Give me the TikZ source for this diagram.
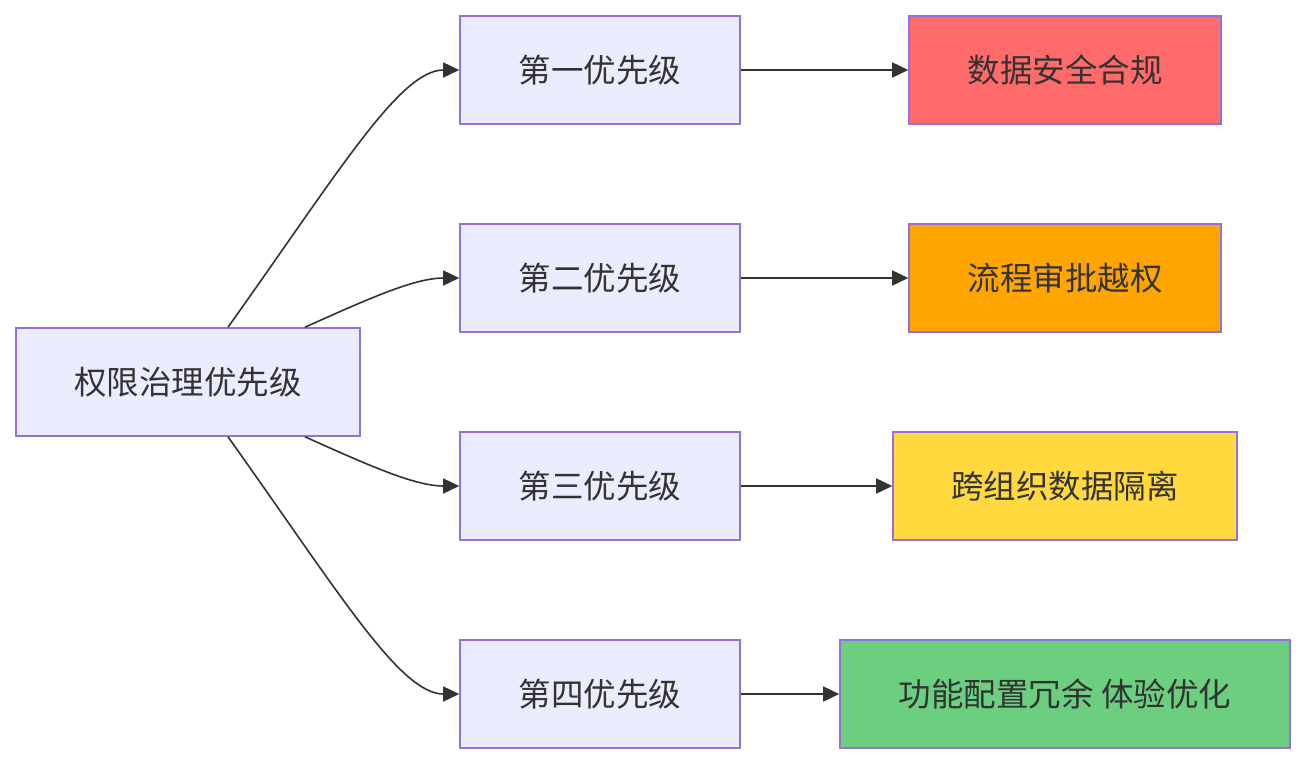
\documentclass[tikz,border=0pt]{standalone}
\usepackage{fontspec}
\setmainfont{Noto Sans CJK SC}
\usetikzlibrary{arrows.meta}
\definecolor{txt}{HTML}{333333}
\definecolor{bord}{HTML}{9370DB}
\definecolor{lav}{HTML}{ECECFF}
\definecolor{cred}{HTML}{FF6B6B}
\definecolor{corange}{HTML}{FFA500}
\definecolor{cyellow}{HTML}{FFD93D}
\definecolor{cgreen}{HTML}{6BCF7F}
\tikzset{
  box/.style={draw=bord, line width=1.6pt, fill=lav, text=txt, inner sep=0pt,
    font=\fontsize{32.5}{38}\selectfont, minimum height=108pt},
  conn/.style={draw=txt, line width=1.6pt, -{Triangle[length=16pt,width=15pt]}}
}
\begin{document}
\begin{tikzpicture}[x=1pt,y=-1pt]
\useasboundingbox (0,0) rectangle (1305,764);
\node[box, minimum width=344pt] (root) at (188,382) {权限治理优先级};
\node[box, minimum width=280pt] (p1) at (600,70) {第一优先级};
\node[box, minimum width=280pt] (p2) at (600,278) {第二优先级};
\node[box, minimum width=280pt] (p3) at (600,486) {第三优先级};
\node[box, minimum width=280pt] (p4) at (600,694) {第四优先级};
\node[box, minimum width=312pt, fill=cred] (r1) at (1065,70) {数据安全合规};
\node[box, minimum width=312pt, fill=corange] (r2) at (1065,278) {流程审批越权};
\node[box, minimum width=344pt, fill=cyellow] (r3) at (1065,486) {跨组织数据隔离};
\node[box, minimum width=450pt, fill=cgreen] (r4) at (1065,694) {功能配置冗余 体验优化};
\draw[conn] ([xshift=40pt]root.north) .. controls (340,170) and (400,70) .. (p1.west);
\draw[conn] ([xshift=117pt]root.north) .. controls (370,298) and (415,278) .. (p2.west);
\draw[conn] ([xshift=117pt]root.south) .. controls (370,466) and (415,486) .. (p3.west);
\draw[conn] ([xshift=40pt]root.south) .. controls (340,594) and (400,694) .. (p4.west);
\draw[conn] (p1.east) -- (r1.west);
\draw[conn] (p2.east) -- (r2.west);
\draw[conn] (p3.east) -- (r3.west);
\draw[conn] (p4.east) -- (r4.west);
\end{tikzpicture}
\end{document}
